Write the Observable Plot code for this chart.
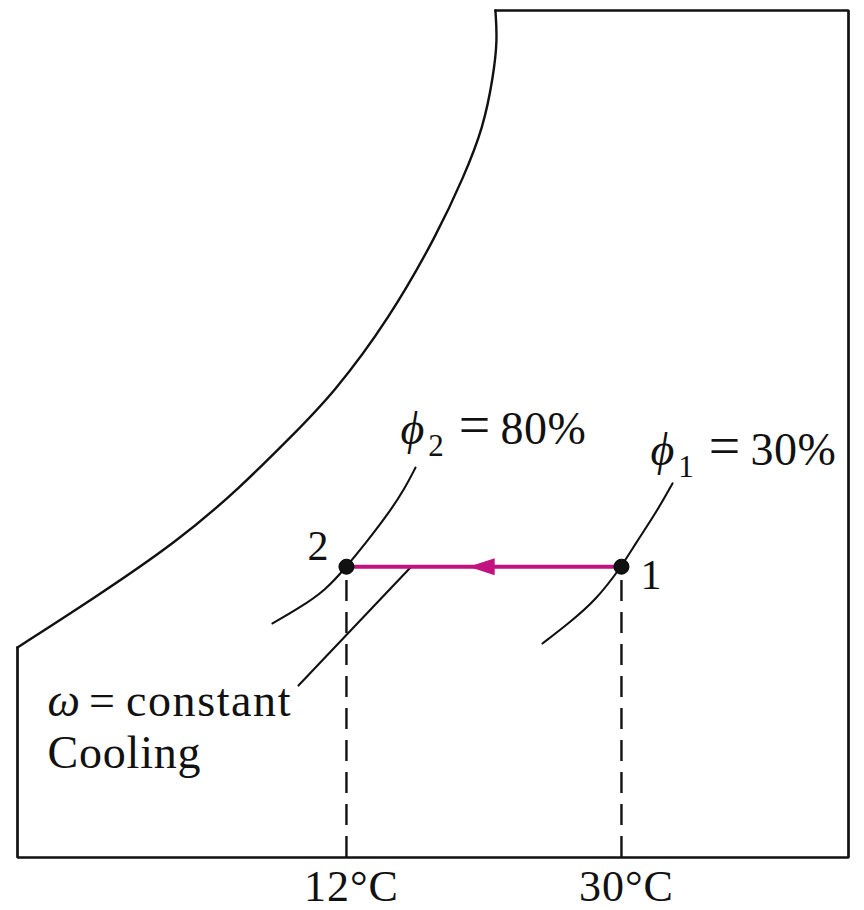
<!DOCTYPE html>
<html>
<head>
<meta charset="utf-8">
<script src="https://cdn.jsdelivr.net/npm/d3@7"></script>
<script src="https://cdn.jsdelivr.net/npm/@observablehq/plot@0.6"></script>
<style>
  html, body { margin: 0; padding: 0; background: #fff; }
  #chart svg { display: block; }
</style>
</head>
<body>
<div id="chart"></div>
<script>
// ---- data (temperature in °C, humidity ratio ω in arbitrary g/kg units) ----
const satT = [-9.53, -4.56, 0.94, 5.06, 8.33, 11.15, 14.81, 17.96, 19.66, 20.97, 21.62, 21.88, 21.75];
const satW = [7.44, 9.17, 11.19, 13.11, 14.88, 16.43, 19.09, 22.10, 24.09, 25.86, 27.70, 28.94, 30.0];

const phi2T = [7.16, 8.86, 10.63, 12.0, 13.24, 14.75, 15.86, 16.52];
const phi2W = [8.29, 8.82, 9.46, 10.3, 11.12, 12.18, 13.11, 13.81];

const phi1T = [24.83, 26.53, 28.30, 30.0, 30.92, 32.23, 33.34];
const phi1W = [7.58, 8.29, 9.10, 10.3, 11.12, 12.18, 13.25];

const leaderT = [8.86, 16.19];
const leaderW = [6.09, 10.27];

const stateLabels = ["1", "2"];
const stateT = [30, 12];
const stateW = [10.3, 10.3];

const arrowT = 20;           // where the arrow head tip sits on the process line
const tickValues = [12, 30];
const tickLabels = ["12°C", "30°C"];

const phi2Label = "ϕ2 = 80%";
const phi1Label = "ϕ1 = 30%";
const omegaLabel = "ω = constant";
const coolingLabel = "Cooling";

const xDomain = [-9.53, 44.86];
const yDomain = [0, 30];

// ---- derived tables ----
const zip = (xs, ys) => xs.map((x, i) => ({T: x, w: ys[i]}));
const sat = zip(satT, satW);
const phi2 = zip(phi2T, phi2W);
const phi1 = zip(phi1T, phi1W);
const leader = zip(leaderT, leaderW);
const states = stateLabels.map((l, i) => ({label: l, T: stateT[i], w: stateW[i]}));
const ticks = tickValues.map((v, i) => ({T: v, label: tickLabels[i]}));
const frame = [
  {T: sat[sat.length - 1].T, w: yDomain[1]},
  {T: xDomain[1], w: yDomain[1]},
  {T: xDomain[1], w: yDomain[0]},
  {T: xDomain[0], w: yDomain[0]},
  {T: xDomain[0], w: sat[0].w}
];
const phi2Top = phi2[phi2.length - 1];
const phi1Top = phi1[phi1.length - 1];
const leaderLow = leader[0];

const ink = "#111";
const magenta = "#c2127f";
const serif = "Liberation Serif, Times New Roman, serif";

const arrowHead = {
  draw(ctx) {
    ctx.moveTo(0, 0);
    ctx.lineTo(26, -8.5);
    ctx.lineTo(26, 8.5);
    ctx.closePath();
  }
};

const chart = Plot.plot({
  width: 864,
  height: 910,
  marginLeft: 17,
  marginRight: 16,
  marginTop: 10,
  marginBottom: 53,
  x: {domain: xDomain, axis: null},
  y: {domain: yDomain, axis: null},
  style: {background: "#fff", fontFamily: serif},
  marks: [
    Plot.line(frame, {x: "T", y: "w", stroke: ink, strokeWidth: 2.7, strokeLinejoin: "miter"}),
    Plot.line(sat, {x: "T", y: "w", stroke: ink, strokeWidth: 2.4, curve: "basis"}),
    Plot.line(phi2, {x: "T", y: "w", stroke: ink, strokeWidth: 2.1, curve: "basis"}),
    Plot.line(phi1, {x: "T", y: "w", stroke: ink, strokeWidth: 2.1, curve: "basis"}),
    Plot.line(leader, {x: "T", y: "w", stroke: ink, strokeWidth: 2.1}),
    Plot.ruleX(states, {x: "T", y1: yDomain[0], y2: "w", stroke: ink, strokeWidth: 2.4, strokeDasharray: "21,11"}),
    Plot.line(states, {x: "T", y: "w", stroke: magenta, strokeWidth: 4}),
    Plot.dot([{T: arrowT, w: stateW[0]}], {x: "T", y: "w", symbol: arrowHead, fill: magenta, stroke: "none"}),
    Plot.dot(states, {x: "T", y: "w", r: 7.5, fill: ink, stroke: "#000", strokeWidth: 1}),
    Plot.text(states, {x: "T", y: "w", text: "label", fontSize: 42, fill: ink, lineAnchor: "bottom",
      textAnchor: "end", filter: d => d.label === "2", dx: -18, dy: -7}),
    Plot.text(states, {x: "T", y: "w", text: "label", fontSize: 42, fill: ink, lineAnchor: "bottom",
      textAnchor: "start", filter: d => d.label === "1", dx: 19, dy: 22}),
    Plot.text([phi2Top], {x: "T", y: "w", text: () => phi2Label, fontSize: 46, fill: ink,
      textAnchor: "start", lineAnchor: "bottom", dx: -15, dy: -24}),
    Plot.text([phi1Top], {x: "T", y: "w", text: () => phi1Label, fontSize: 46, fill: ink,
      textAnchor: "start", lineAnchor: "bottom", dx: -22, dy: -18}),
    Plot.text([leaderLow], {x: () => xDomain[0], y: "w", text: () => omegaLabel, fontSize: 46, fill: ink,
      textAnchor: "start", lineAnchor: "bottom", dx: 30, dy: 30}),
    Plot.text([leaderLow], {x: () => xDomain[0], y: "w", text: () => coolingLabel, fontSize: 46, fill: ink,
      textAnchor: "start", lineAnchor: "bottom", dx: 30, dy: 82}),
    Plot.text(ticks, {x: "T", y: () => yDomain[0], text: "label", fontSize: 44, fill: ink,
      textAnchor: "middle", lineAnchor: "bottom", dx: 5, dy: 43})
  ]
});

// rich text: italic Greek letters, subscripts, spacing
d3.select(chart).selectAll("text").each(function() {
  const s = this.textContent;
  const el = d3.select(this);
  if (s === phi2Label || s === phi1Label) {
    const [head, value] = s.split(" = ");
    el.text(null);
    el.append("tspan").attr("font-style", "italic").text(head[0]);
    el.append("tspan").attr("font-size", 31).attr("dy", 12).attr("dx", 4).text(head.slice(1));
    el.append("tspan").attr("dy", -12).attr("dx", 15).attr("font-size", 56).attr("font-weight", 300).text("=");
    el.append("tspan").attr("dx", 10).attr("letter-spacing", 0.6).text(value);
  } else if (s === omegaLabel) {
    const [head, value] = s.split(" = ");
    el.text(null);
    el.append("tspan").attr("font-style", "italic").text(head);
    el.append("tspan").attr("dx", 9).text("=");
    el.append("tspan").attr("dx", 11).attr("letter-spacing", 1.6).text(value);
  } else if (s === coolingLabel) {
    el.attr("letter-spacing", 0.8);
  } else if (tickLabels.includes(s)) {
    el.attr("letter-spacing", 1);
  }
});

document.getElementById("chart").appendChild(chart);
</script>
</body>
</html>
